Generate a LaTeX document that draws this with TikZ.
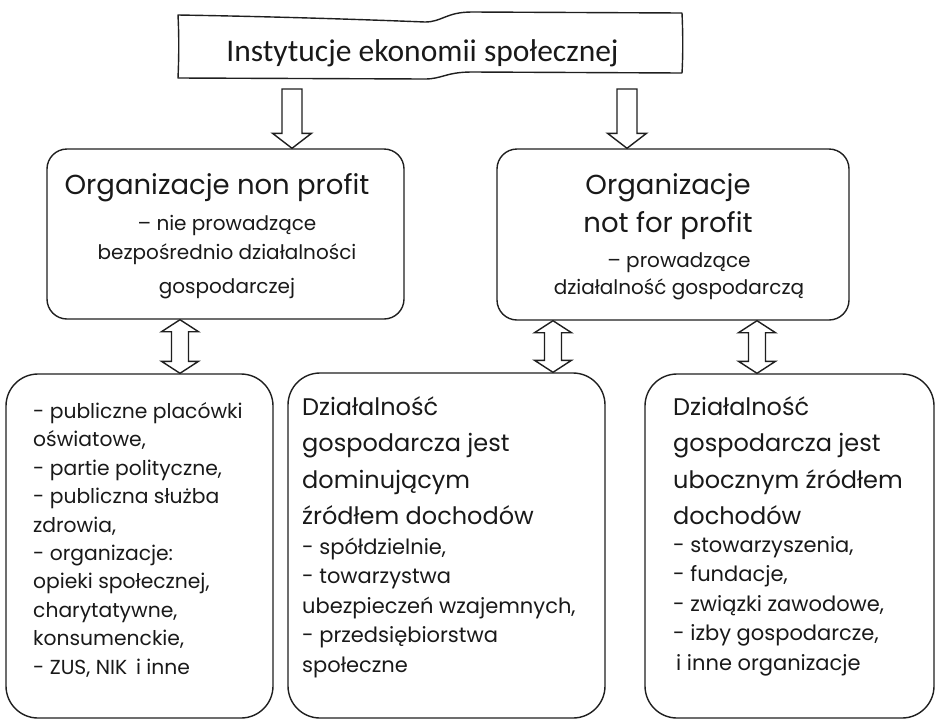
\documentclass[tikz,border=0pt]{standalone}
\usepackage{fontspec}
\setmainfont{Poppins}
\newfontfamily\titlefont{Carlito}
\usetikzlibrary{calc}

\tikzset{
  ink/.style={draw=black!88, line width=1.4pt},
  panel/.style={ink, rounded corners=20pt, inner sep=0pt},
  card/.style={ink, rounded corners=32pt, inner sep=0pt},
  blk/.style={ink, line join=miter, fill=white},
  txt/.style={text=black!90, inner sep=0pt},
  headtxt/.style={txt, font=\fontsize{27.5}{38}\selectfont},
  subtxt/.style={txt, font=\fontsize{20}{29}\selectfont},
  bigtxt/.style={txt, font=\fontsize{24}{36.5}\selectfont},
  smalltxt/.style={txt, font=\fontsize{21}{29.5}\selectfont},
}

% hollow block arrow pointing down: #1 = start of shaft, #2 = tip
\newcommand\blockdown[2]{%
  \draw[blk] let \p1=(#1), \p2=(#2) in
    (\x1-10pt,\y1) -- (\x1+10pt,\y1) -- (\x1+10pt,\y2+15pt)
    -- (\x1+19.5pt,\y2+15pt) -- (\x1,\y2) -- (\x1-19.5pt,\y2+15pt)
    -- (\x1-10pt,\y2+15pt) -- cycle;}

% hollow double-headed block arrow: #1 = upper tip, #2 = lower tip
\newcommand\twinarrow[2]{%
  \draw[blk] let \p1=(#1), \p2=(#2) in
    (\x1,\y1) -- (\x1+18.5pt,\y1-12pt) -- (\x1+8.5pt,\y1-12pt)
    -- (\x1+8.5pt,\y2+12pt) -- (\x1+18.5pt,\y2+12pt) -- (\x1,\y2)
    -- (\x1-18.5pt,\y2+12pt) -- (\x1-8.5pt,\y2+12pt)
    -- (\x1-8.5pt,\y1-12pt) -- (\x1-18.5pt,\y1-12pt) -- cycle;}

\begin{document}
\begin{tikzpicture}[x=1pt, y=-1pt]
\useasboundingbox (0,0) rectangle (936,721);

% wavy banner
\draw[ink, line join=round]
  (178,15) .. controls (300,17) and (400,21) .. (425,22)
  .. controls (442,22) and (446,12) .. (472,12) -- (682,13)
  .. controls (683,35) and (683,55) .. (682,73)
  -- (472,72) .. controls (446,72) and (442,79) .. (425,79)
  -- (178,78) .. controls (179,55) and (179,35) .. cycle;
\node[txt, anchor=base, font=\titlefont\fontsize{31.5}{36}\selectfont] (ban) at (422.5,61)
  {Instytucje ekonomii społecznej};

% boxes
\node[panel, minimum width=357pt, minimum height=170pt] (nl) at (225.5,234) {};
\node[panel, minimum width=352pt, minimum height=171pt] (nr) at (673,234.5) {};
\node[card, minimum width=267pt, minimum height=344pt] (bl) at (139.5,546) {};
\node[card, minimum width=317pt, minimum height=345pt] (bm) at (446.5,545.5) {};
\node[card, minimum width=289pt, minimum height=344pt] (br) at (789.5,546) {};

% arrows
\coordinate (sa) at (292,89);
\coordinate (sb) at (627,89);
\blockdown{sa}{nl.north -| sa}
\blockdown{sb}{nr.north -| sb}

\coordinate (xa) at (180,0);
\coordinate (xb) at (553,0);
\coordinate (xc) at (757,0);
\twinarrow{nl.south -| xa}{bl.north -| xa}
\twinarrow{nr.south -| xb}{bm.north -| xb}
\twinarrow{nr.south -| xc}{br.north -| xc}

% texts of the upper boxes (multi-line nodes sit on their last baseline)
\node[headtxt, anchor=base] (nlt) at (217,194) {Organizacje non profit};
\node[subtxt, anchor=base, align=center] (nls) at (227,293)
  {– nie prowadzące\\bezpośrednio działalności\\[5pt]gospodarczej};

\node[headtxt, anchor=base, align=center] (nrt) at (668,232)
  {Organizacje\\not for profit};
\node[subtxt, anchor=base, align=center] (nrs) at (679,294)
  {– prowadzące\\[-2pt]działalność gospodarczą};

% texts of the lower boxes
\node[smalltxt, anchor=base west, align=left,
      font=\fontsize{20.3}{28.4}\selectfont] (blt) at (33,674)
  {- publiczne placówki\\oświatowe,\\- partie polityczne,\\- publiczna służba\\zdrowia,\\- organizacje:\\opieki społecznej,\\charytatywne,\\konsumenckie,\\- ZUS, NIK\, i inne};

\node[bigtxt, anchor=base west, align=left] (bmt) at (302,524.5)
  {Działalność\\gospodarcza jest\\dominującym\\źródłem dochodów};
\node[smalltxt, anchor=base west, align=left] (bml) at (302,672)
  {- spółdzielnie,\\- towarzystwa\\ubezpieczeń wzajemnych,\\- przedsiębiorstwa\\społeczne};

\node[bigtxt, anchor=base west, align=left] (brt) at (673,524.5)
  {Działalność\\gospodarcza jest\\ubocznym źródłem\\dochodów};
\node[smalltxt, anchor=base west, align=left] (brl) at (673,670)
  {- stowarzyszenia,\\- fundacje,\\- związki zawodowe,\\- izby gospodarcze,\\\hspace*{3pt}i inne organizacje};
\end{tikzpicture}
\end{document}
